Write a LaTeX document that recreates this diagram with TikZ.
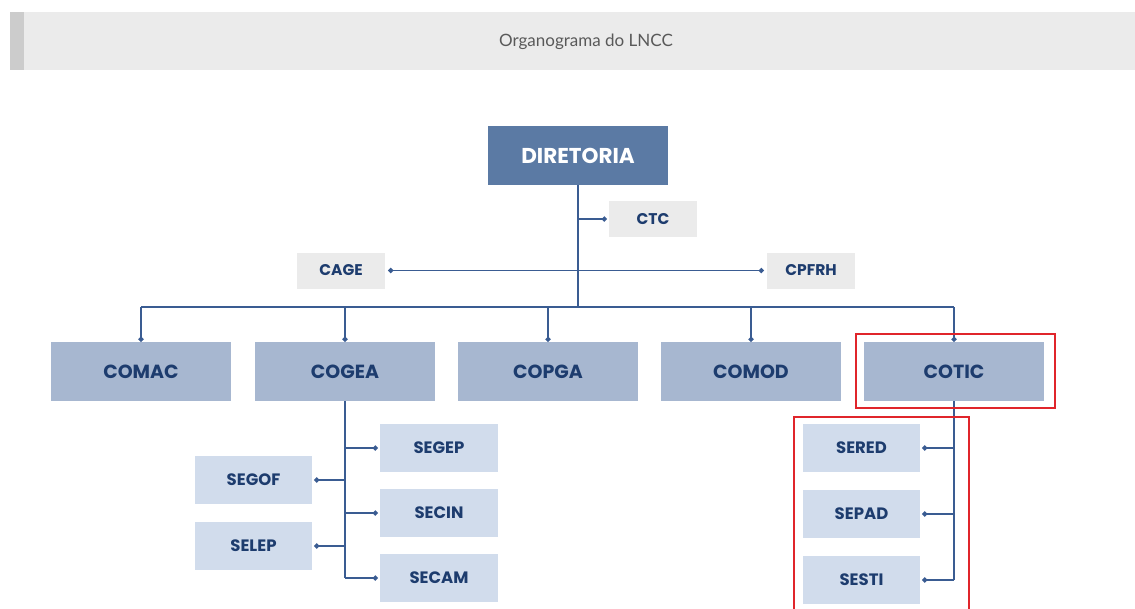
\documentclass[tikz,border=0pt]{standalone}
\usepackage{fontspec}
\setmainfont{Poppins}
\newfontfamily\headfont{Lato}
\usetikzlibrary{arrows.meta}

\definecolor{navy}{HTML}{1D3C6E}
\definecolor{wire}{HTML}{3A5C92}
\definecolor{dirblue}{HTML}{5B7AA4}
\definecolor{coblue}{HTML}{A7B7D0}
\definecolor{seblue}{HTML}{D1DCEC}
\definecolor{boxgray}{HTML}{EBEBEB}
\definecolor{mark}{HTML}{E0252B}

\tikzset{
  unit/.style={inner sep=0, font=\bfseries, text=navy},
  diretoria/.style={unit, fill=dirblue, text=white, minimum width=180, minimum height=59, font=\bfseries\fontsize{21.5}{21.5}\selectfont},
  coord/.style={unit, fill=coblue, minimum width=180, minimum height=59, font=\bfseries\fontsize{19}{19}\selectfont},
  setor/.style={unit, fill=seblue, minimum width=118, minimum height=48, font=\bfseries\fontsize{16.5}{16.5}\selectfont},
  comite/.style={unit, fill=boxgray, minimum width=88, minimum height=36, font=\bfseries\fontsize{15.5}{15.5}\selectfont},
  link/.style={draw=wire, line width=1.5},
  dot/.style={link, -{Circle[length=5,width=5]}},
  redbox/.style={draw=mark, line width=2.6}
}

\begin{document}
\begin{tikzpicture}[x=1pt,y=-1pt]
\useasboundingbox (0,0) rectangle (1135,608);
\clip (0,0) rectangle (1135,608);

% title bar
\fill[boxgray] (10,12) rectangle (1135,70);
\fill[black!20] (10,12) rectangle (24,70);
\node[text=black!65, font=\headfont\fontsize{17}{17}\selectfont] (title) at (586,42) {Organograma do LNCC};

% direction
\node[diretoria] (dir) at (578,155.5) {DIRETORIA};
\node[comite] (ctc) at (653,219) {CTC};
\node[comite] (cage) at (341,270.5) {CAGE};
\node[comite] (cpfrh) at (811,270.5) {CPFRH};

% coordinations
\node[coord] (comac) at (141,371.5) {COMAC};
\node[coord] (cogea) at (345,371.5) {COGEA};
\node[coord] (copga) at (548,371.5) {COPGA};
\node[coord] (comod) at (751,371.5) {COMOD};
\node[coord] (cotic) at (954,371.5) {COTIC};

% sectors of COGEA
\node[setor] (segep) at (439,448) {SEGEP};
\node[setor] (secin) at (439,513) {SECIN};
\node[setor] (secam) at (439,578) {SECAM};
\node[setor, minimum width=117] (segof) at (253.5,480) {SEGOF};
\node[setor, minimum width=117] (selep) at (253.5,546) {SELEP};

% sectors of COTIC
\node[setor, minimum width=117] (sered) at (861.5,448) {SERED};
\node[setor, minimum width=117] (sepad) at (861.5,514) {SEPAD};
\node[setor, minimum width=117] (sesti) at (861.5,580) {SESTI};

% bus
\coordinate (bus) at (578,307);
\draw[link] (dir.south) -- (dir.south |- bus);
\draw[dot] (dir.south |- ctc.west) -- ([xshift=-2]ctc.west);
\draw[link, {Circle[length=5,width=5]}-{Circle[length=5,width=5]}] ([xshift=3]cage.east) -- ([xshift=-3]cpfrh.west);
\draw[link] (comac.north |- bus) -- (cotic.north |- bus);
\foreach \c in {comac,cogea,copga,comod,cotic}
  \draw[dot] (\c.north |- bus) -- (\c.north);

% COGEA branches
\draw[link] (cogea.south) -- (cogea.south |- secam.west);
\foreach \s in {segep,secin,secam}
  \draw[dot] (cogea.south |- \s.west) -- ([xshift=-2]\s.west);
\foreach \s in {segof,selep}
  \draw[dot] (cogea.south |- \s.east) -- ([xshift=2]\s.east);

% COTIC branches
\draw[link] (cotic.south) -- (cotic.south |- sesti.east);
\foreach \s in {sered,sepad,sesti}
  \draw[dot] (cotic.south |- \s.east) -- ([xshift=2]\s.east);

% highlight
\draw[redbox] (856,334) rectangle (1055,408);
\draw[redbox] (794,417) rectangle (969,625);

\end{tikzpicture}
\end{document}
